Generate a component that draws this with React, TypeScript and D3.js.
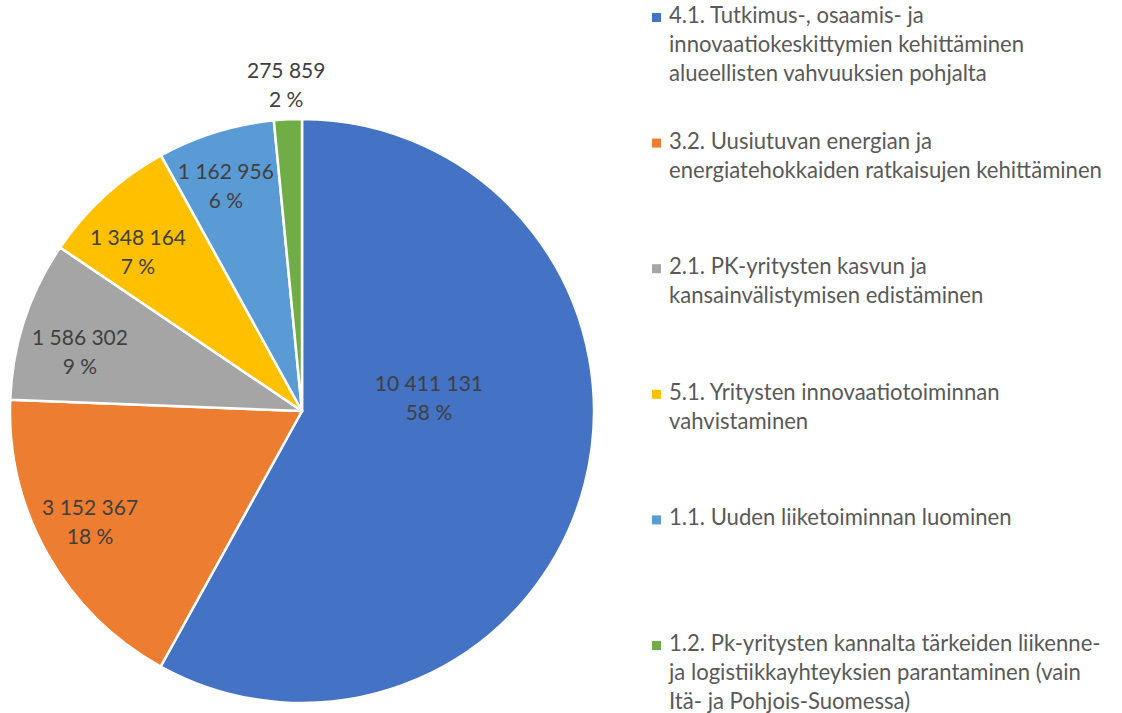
import React from "react";
import * as d3 from "d3";

const categories = [
  "4.1. Tutkimus-, osaamis- ja innovaatiokeskittymien kehittäminen alueellisten vahvuuksien pohjalta",
  "3.2. Uusiutuvan energian ja energiatehokkaiden ratkaisujen kehittäminen",
  "2.1. PK-yritysten kasvun ja kansainvälistymisen edistäminen",
  "5.1. Yritysten innovaatiotoiminnan vahvistaminen",
  "1.1. Uuden liiketoiminnan luominen",
  "1.2. Pk-yritysten kannalta tärkeiden liikenne- ja logistiikkayhteyksien parantaminen (vain Itä- ja Pohjois-Suomessa)",
];
const legendLines = [
  ["4.1. Tutkimus-, osaamis- ja", "innovaatiokeskittymien kehittäminen", "alueellisten vahvuuksien pohjalta"],
  ["3.2. Uusiutuvan energian ja", "energiatehokkaiden ratkaisujen kehittäminen"],
  ["2.1. PK-yritysten kasvun ja", "kansainvälistymisen edistäminen"],
  ["5.1. Yritysten innovaatiotoiminnan", "vahvistaminen"],
  ["1.1. Uuden liiketoiminnan luominen"],
  ["1.2. Pk-yritysten kannalta tärkeiden liikenne-", "ja logistiikkayhteyksien parantaminen (vain", "Itä- ja Pohjois-Suomessa)"],
];
const values = [10411131, 3152367, 1586302, 1348164, 1162956, 275859];
const valueLabels = ["10 411 131", "3 152 367", "1 586 302", "1 348 164", "1 162 956", "275 859"];
const percentLabels = ["58 %", "18 %", "9 %", "7 %", "6 %", "2 %"];
const colors = ["#4472C4", "#ED7D31", "#A5A5A5", "#FFC000", "#5B9BD5", "#70AD47"];
// label placement (Excel "best fit"): radius as a fraction of R, angular shift in degrees
const labelRadiusFactors = [0.437, 0.819, 0.787, 0.782, 0.813, 1.118];
const labelAngleShift = [-20.3, 1.8, -3.2, -3.5, -1.5, 0];

const W = 1122;
const H = 713;
const cx = 302;
const cy = 411;
const R = 292;
const FONT = "Lato, 'Open Sans', sans-serif";

export default function App() {
  const pie = d3.pie<number>().sort(null).value((d) => d);
  const arcs = pie(values);
  const arcGen = d3.arc<d3.PieArcDatum<number>>().innerRadius(0).outerRadius(R);
  const legendBase0 = 23;
  const legendStep = 125.6;
  const lineH = 29;

  return (
    <svg width={W} height={H} style={{ position: "absolute", left: 0, top: 0, background: "#fff" }} fontFamily={FONT}>
      <g transform={`translate(${cx},${cy})`}>
        {arcs.map((a, i) => (
          <path key={i} d={arcGen(a) || ""} fill={colors[i]} stroke="#fff" strokeWidth={2.5} strokeLinejoin="round" />
        ))}
        {arcs.map((a, i) => {
          const mid = (a.startAngle + a.endAngle) / 2 + (labelAngleShift[i] * Math.PI) / 180;
          const r = R * labelRadiusFactors[i];
          const x = Math.sin(mid) * r;
          const y = -Math.cos(mid) * r;
          return (
            <g key={i} transform={`translate(${x},${y})`} fill="#404040" fontSize={21} textAnchor="middle">
              <text y={-14.5} dy="0.36em">{valueLabels[i]}</text>
              <text y={14.5} dy="0.36em">{percentLabels[i]}</text>
            </g>
          );
        })}
      </g>
      {legendLines.map((lines, i) => {
        const y = legendBase0 + i * legendStep;
        return (
          <g key={i} transform={`translate(652,${y})`}>
            <title>{categories[i]}</title>
            <rect x={0} y={-10} width={9} height={9} fill={colors[i]} />
            {lines.map((ln, j) => (
              <text key={j} x={17} y={j * lineH} fill="#595959" fontSize={22.1}>
                {ln}
              </text>
            ))}
          </g>
        );
      })}
    </svg>
  );
}
